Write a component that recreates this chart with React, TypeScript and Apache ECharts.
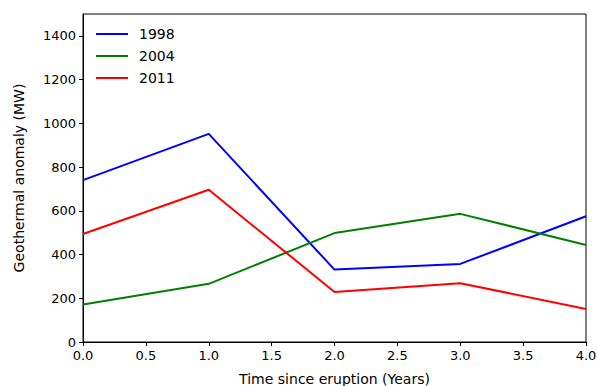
import React, { useEffect, useRef } from "react";
import * as echarts from "echarts";

const years = [0, 1, 2, 3, 4];
const s1998 = [740, 952, 331, 357, 575];
const s2004 = [171, 266, 498, 586, 444];
const s2011 = [494, 696, 229, 269, 151];
const seriesNames = ["1998", "2004", "2011"];
const seriesColors = ["#0000ff", "#008000", "#ff0000"];

const FONT = "DejaVu Sans";

export default function App() {
  const ref = useRef<HTMLDivElement>(null);
  useEffect(() => {
    const chart = echarts.init(ref.current!, null, { renderer: "svg" });
    const all = [s1998, s2004, s2011];
    chart.setOption({
      animation: false,
      backgroundColor: "#ffffff",
      grid: {
        left: 83,
        right: 11,
        top: 14,
        bottom: 44,
        outerBoundsMode: "none",
        containLabel: false,
        show: true,
        borderColor: "#000",
        borderWidth: 1,
        backgroundColor: "transparent",
      },
      legend: {
        orient: "vertical",
        left: 96,
        top: 26,
        padding: 0,
        icon: "rect",
        itemWidth: 32,
        itemHeight: 2,
        itemGap: 6,
        textStyle: { fontFamily: FONT, fontSize: 14, color: "#000", padding: [0, 0, 0, 6], lineHeight: 16 },
        data: seriesNames,
      },
      xAxis: {
        type: "value",
        min: 0,
        max: 4,
        interval: 0.5,
        name: "Time since eruption (Years)",
        nameLocation: "middle",
        nameGap: 30,
        nameTextStyle: { fontFamily: FONT, fontSize: 14, color: "#000" },
        axisLine: { show: true, lineStyle: { color: "#000", width: 1 } },
        axisTick: { show: true, length: 4, lineStyle: { color: "#000" } },
        axisLabel: {
          fontFamily: FONT,
          fontSize: 13,
          color: "#000",
          margin: 7,
          formatter: (v: number) => v.toFixed(1),
        },
        splitLine: { show: false },
      },
      yAxis: {
        type: "value",
        min: 0,
        max: 1500,
        interval: 200,
        name: "Geothermal anomaly (MW)",
        nameLocation: "middle",
        nameGap: 57,
        nameTextStyle: { fontFamily: FONT, fontSize: 14, color: "#000" },
        axisLine: { show: true, lineStyle: { color: "#000", width: 1 } },
        axisTick: { show: true, length: 4, lineStyle: { color: "#000" } },
        axisLabel: {
          fontFamily: FONT,
          fontSize: 13,
          color: "#000",
          margin: 7,
          showMaxLabel: false,
          formatter: (v: number) => String(v),
        },
        splitLine: { show: false },
      },
      series: seriesNames.map((n, i) => ({
        name: n,
        type: "line",
        data: years.map((x, j) => [x, all[i][j]]),
        showSymbol: false,
        symbol: "none",
        color: seriesColors[i],
        lineStyle: { color: seriesColors[i], width: 2 },
      })),
    });
    return () => chart.dispose();
  }, []);
  return <div ref={ref} style={{ width: 597, height: 386, position: "absolute", left: 0, top: 0 }} />;
}
